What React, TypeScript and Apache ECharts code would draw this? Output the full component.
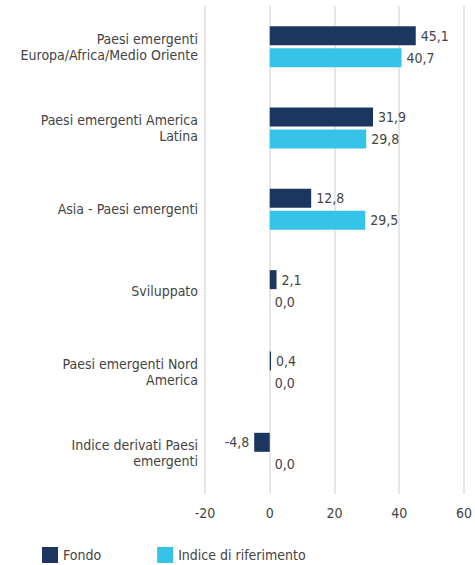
import React, { useEffect, useRef } from "react";
import * as echarts from "echarts";

const categories = [
  "Paesi emergenti\nEuropa/Africa/Medio Oriente",
  "Paesi emergenti America\nLatina",
  "Asia - Paesi emergenti",
  "Sviluppato",
  "Paesi emergenti Nord\nAmerica",
  "Indice derivati Paesi\nemergenti",
];
const fondo = [45.1, 31.9, 12.8, 2.1, 0.4, -4.8];
const indice = [40.7, 29.8, 29.5, 0.0, 0.0, 0.0];
const seriesNames = ["Fondo", "Indice di riferimento"];
const colors = ["#1b365f", "#35c3e8"];

const FONT = "'Liberation Sans Narrow', 'DejaVu Sans Condensed', 'Roboto', sans-serif";
const FS = 14;
const fmt = (v: number) => v.toFixed(1).replace(".", ",");

export default function App() {
  const ref = useRef<HTMLDivElement>(null);
  useEffect(() => {
    if (!ref.current) return;
    const chart = echarts.init(ref.current, undefined, { renderer: "svg" });
    const mkData = (arr: number[]) =>
      arr.map((v) => ({
        value: v,
        label: { position: v < 0 ? "left" : "right" },
      }));
    const label = {
      show: true,
      fontFamily: FONT,
      fontSize: FS,
      color: "#444",
      distance: 5,
      formatter: (p: any) => fmt(p.value),
    };
    chart.setOption({
      animation: false,
      textStyle: { fontFamily: FONT },
      grid: { left: 205, right: 10, top: 6, bottom: 71, containLabel: false },
      legend: {
        left: 42,
        top: 547,
        padding: 0,
        itemWidth: 16,
        itemHeight: 16,
        itemGap: 56,
        icon: "rect",
        textStyle: { fontFamily: FONT, fontSize: FS, color: "#444" },
        data: seriesNames,
      },
      xAxis: {
        type: "value",
        min: -20,
        max: 60,
        interval: 20,
        axisLine: { show: false },
        axisTick: { show: false },
        axisLabel: { fontFamily: FONT, fontSize: FS, color: "#444", margin: 12 },
        splitLine: { show: true, lineStyle: { color: "#e8e6e4", width: 2 } },
      },
      yAxis: {
        type: "category",
        inverse: true,
        data: categories,
        axisLine: { show: false },
        axisTick: { show: false },
        axisLabel: {
          fontFamily: FONT,
          fontSize: FS,
          color: "#444",
          margin: 7,
          lineHeight: 16,
          align: "right",
        },
      },
      series: [
        {
          name: seriesNames[0],
          type: "bar",
          data: mkData(fondo),
          barWidth: 19,
          barGap: "16%",
          itemStyle: { color: colors[0] },
          label,
        },
        {
          name: seriesNames[1],
          type: "bar",
          data: mkData(indice),
          barWidth: 19,
          itemStyle: { color: colors[1] },
          label,
        },
      ],
    });
    return () => chart.dispose();
  }, []);
  return (
    <div
      ref={ref}
      style={{ position: "absolute", left: 0, top: 0, width: 475, height: 565, background: "#fff" }}
    />
  );
}
